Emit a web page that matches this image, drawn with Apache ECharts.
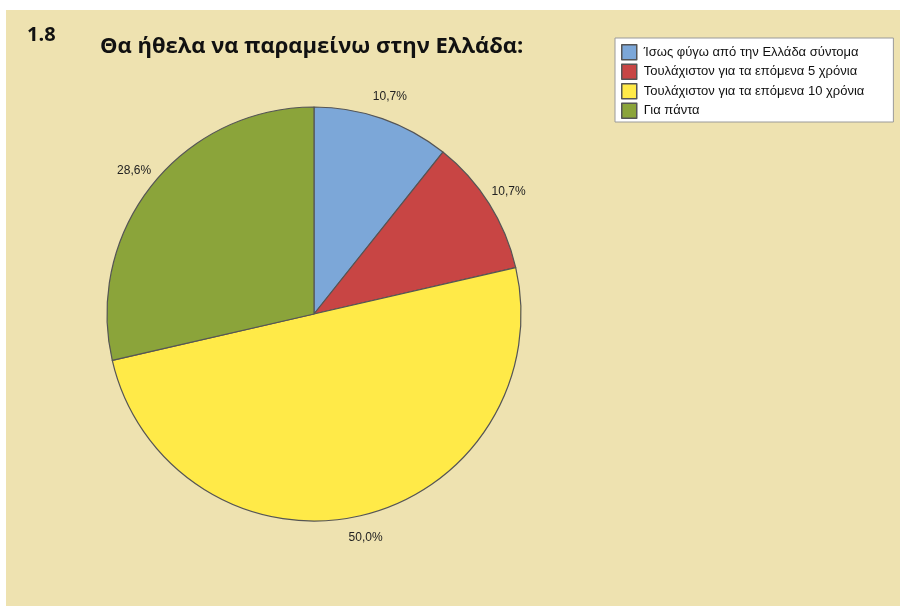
<!DOCTYPE html>
<html>
<head>
<meta charset="utf-8">
<script src="https://cdn.jsdelivr.net/npm/echarts@6/dist/echarts.min.js"></script>
<style>
  html, body { margin: 0; padding: 0; background: #ffffff; }
  #chart { width: 904px; height: 607px; }
</style>
</head>
<body>
<div id="chart"></div>
<script>
// Answers to question 1.8 and their share of respondents (%)
const categories = [
  'Ίσως φύγω από την Ελλάδα σύντομα',
  'Τουλάχιστον για τα επόμενα 5 χρόνια',
  'Τουλάχιστον για τα επόμενα 10 χρόνια',
  'Για πάντα'
];
const shares = [10.7, 10.7, 50.0, 28.6];
const sliceColors = ['#7ca7d8', '#c84544', '#ffea48', '#8ba43a'];

const pieData = categories.map((name, i) => ({
  name: name,
  value: shares[i],
  itemStyle: { color: sliceColors[i] }
}));

const fmtPct = p => p.value.toFixed(1).replace('.', ',') + '%';

const chart = echarts.init(document.getElementById('chart'), null, { renderer: 'canvas' });
chart.setOption({
  backgroundColor: '#ffffff',
  animation: false,
  graphic: [
    {
      type: 'rect',
      shape: { x: 6, y: 10, width: 894, height: 596 },
      style: { fill: '#eee2b0' },
      z: -10
    },
    {
      type: 'text',
      left: 27, top: 25,
      style: { text: '1.8', font: 'bold 20px "Open Sans", sans-serif', fill: '#111' }
    }
  ],
  title: {
    text: 'Θα ήθελα να παραμείνω στην Ελλάδα:',
    left: 95, top: 31,
    textStyle: { fontFamily: '"Open Sans", sans-serif', fontWeight: 'bold', fontSize: 22, color: '#111' }
  },
  legend: {
    data: categories,
    orient: 'vertical',
    left: 615, top: 38,
    backgroundColor: '#ffffff',
    borderColor: '#9a9a9a',
    borderWidth: 1,
    padding: [6, 29, 3, 6],
    itemWidth: 15, itemHeight: 15,
    itemGap: 3,
    icon: 'rect',
    itemStyle: { borderColor: '#555555', borderWidth: 1.5 },
    textStyle: { fontFamily: '"Liberation Sans", sans-serif', fontSize: 13, lineHeight: 15, color: '#111', padding: [0, 0, 0, 2] },
    selectedMode: false
  },
  series: [
    {
      type: 'pie',
      center: [314, 314],
      radius: 207,
      startAngle: 90,
      clockwise: true,
      data: pieData,
      itemStyle: { borderColor: '#555555', borderWidth: 1.2 },
      label: { show: false },
      labelLine: { show: false },
      emphasis: { disabled: true }
    },
    {
      // transparent ring that carries the percentage labels just outside the pie
      type: 'pie',
      center: [314, 314],
      radius: [216, 238],
      startAngle: 90,
      clockwise: true,
      silent: true,
      data: pieData.map(d => ({ name: d.name, value: d.value })),
      itemStyle: { color: 'rgba(0,0,0,0)', borderWidth: 0 },
      label: {
        show: true,
        position: 'inside',
        formatter: fmtPct,
        fontFamily: '"Liberation Sans", sans-serif',
        fontSize: 12,
        color: '#222'
      },
      labelLine: { show: false },
      emphasis: { disabled: true }
    }
  ]
});
</script>
</body>
</html>
